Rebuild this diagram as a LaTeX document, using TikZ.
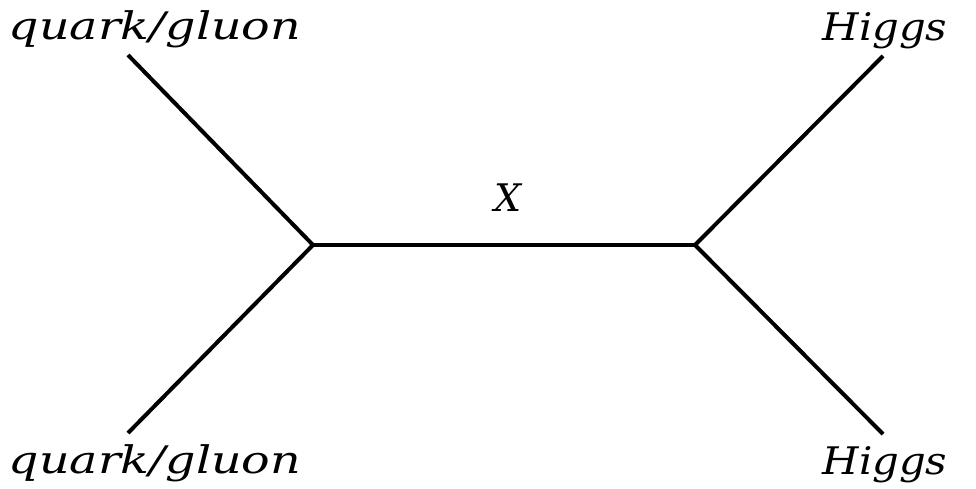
\documentclass[tikz,border=0pt]{standalone}
\usepackage{fontspec}
\setmainfont{DejaVu Serif}
\begin{document}
\begin{tikzpicture}[x=1pt,y=-1pt,
  prop/.style={line width=4pt,black},
  lbl/.style={inner sep=0pt,anchor=base,transform shape,font=\fontsize{38}{46}\selectfont\itshape}]
\useasboundingbox (0,0) rectangle (976,488);
\coordinate (vl) at (313,245);
\coordinate (vr) at (695,245);
\coordinate (ul) at (128,55);
\coordinate (ll) at (128,433);
\coordinate (ur) at (883,56);
\coordinate (lr) at (883,434);
\draw[prop] (ul) -- (vl) -- (ll);
\draw[prop] (vl) -- (vr);
\draw[prop] (ur) -- (vr) -- (lr);
\node[lbl,xscale=1.25] (tq) at (155,39) {quark/gluon};
\node[lbl,xscale=1.25] (bq) at (155,473) {quark/gluon};
\node[lbl,xscale=1.1] (th) at (885,40) {Higgs};
\node[lbl,xscale=1.1] (bh) at (885,474) {Higgs};
\node[lbl] (x) at (508,211) {X};
\end{tikzpicture}
\end{document}
